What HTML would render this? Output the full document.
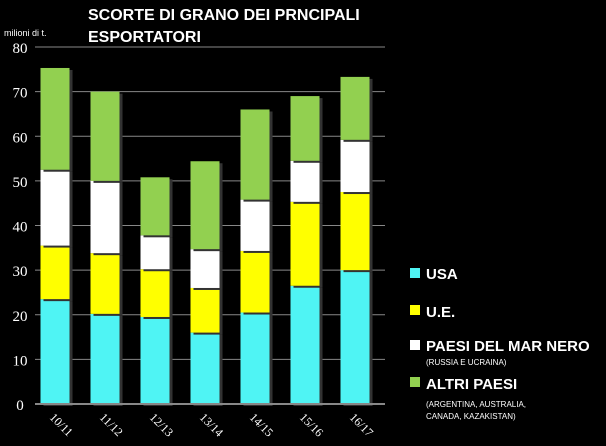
<!DOCTYPE html>
<html><head><meta charset="utf-8">
<style>
body{margin:0;background:#000;width:606px;height:446px;overflow:hidden;font-family:"Liberation Sans",sans-serif;color:#fff}
svg{display:block}
</style></head>
<body>
<svg width="606" height="446">
<g id="plot"></g>
<text x="88" y="20" font-size="16" font-weight="bold" fill="#fff"><tspan x="88" dy="0">SCORTE DI GRANO DEI PRNCIPALI</tspan><tspan x="88" dy="22">ESPORTATORI</tspan></text>
<text x="4" y="36" font-size="9" fill="#fff">milioni di t.</text>
<g>
<rect x="410" y="268" width="10" height="10" fill="#4ff4f4"/>
<text x="426" y="279" font-size="15" font-weight="bold" fill="#fff">USA</text>
<rect x="410" y="305" width="10" height="10" fill="#ffff00"/>
<text x="426" y="317" font-size="15" font-weight="bold" fill="#fff">U.E.</text>
<rect x="410" y="340" width="10" height="10" fill="#ffffff"/>
<text x="426" y="351" font-size="15" font-weight="bold" fill="#fff">PAESI DEL MAR NERO</text>
<text x="426" y="365" font-size="8" fill="#fff">(RUSSIA E UCRAINA)</text>
<rect x="410" y="377" width="10" height="10" fill="#92d050"/>
<text x="426" y="389" font-size="15" font-weight="bold" fill="#fff">ALTRI PAESI</text>
<text x="426" y="407" font-size="8" fill="#fff"><tspan x="426" dy="0">(ARGENTINA, AUSTRALIA,</tspan><tspan x="426" dy="12">CANADA, KAZAKISTAN)</tspan></text>
</g>
</svg>
<script>
const categories=["10/11","11/12","12/13","13/14","14/15","15/16","16/17"];
const usa=[23.5,20.2,19.5,16,20.5,26.5,30];
const ue=[12,13.6,10.7,10,13.8,18.8,17.5];
const marNero=[17,16.2,7.6,8.7,11.5,9.2,11.7];
const altri=[22.8,20,13,19.7,20.2,14.5,14.1];
const yTicks=[0,10,20,30,40,50,60,70,80];
const ns="http://www.w3.org/2000/svg";
const g=document.getElementById('plot');
const y0=404,yTop=47,yMax=80,xL=35,xR=385;
const y=v=>y0-(v/yMax)*(y0-yTop);
const step=(xR-xL)/categories.length;
const xc=i=>xL+step*(i+0.5)-5;
const bw=29;
function mk(t,a){const e=document.createElementNS(ns,t);for(const k in a)e.setAttribute(k,a[k]);g.appendChild(e);return e;}
yTicks.forEach(t=>{
 if(t>0){const l=mk('line',{x1:xL,x2:xR,y1:y(t),y2:y(t),stroke:'#888','stroke-width':1});
 
 }
 const tx=mk('text',{x:20,y:y(t)+6,'font-size':15,'font-family':'Liberation Serif',fill:'#fff','text-anchor':'middle'});
 tx.textContent=t;
 
 
});
const series=[[usa,'#4ff4f4','usa'],[ue,'#ffff00','ue'],[marNero,'#ffffff','mar-nero'],[altri,'#92d050','altri']];
categories.forEach((c,i)=>{
 let base=0;
 series.forEach(([arr,col,nm])=>{
  const top=base+arr[i];
  const sh=mk('rect',{x:xc(i)-bw/2+3,y:y(top)+2,width:bw,height:y(base)-y(top),fill:'#333'});
  
  
  const r=mk('rect',{x:xc(i)-bw/2,y:y(top),width:bw,height:y(base)-y(top),fill:col});
  
  
  base=top;
 });
 const tx=mk('text',{x:xc(i)-6,y:y0+14,'font-size':12,'font-family':'Liberation Serif',fill:'#fff',transform:`rotate(45 ${xc(i)-6} ${y0+14})`});
 tx.textContent=c;
 
 
});
const ax=mk('line',{x1:xL,x2:xR,y1:y0,y2:y0,stroke:'#888','stroke-width':2});


</script>
</body></html>
